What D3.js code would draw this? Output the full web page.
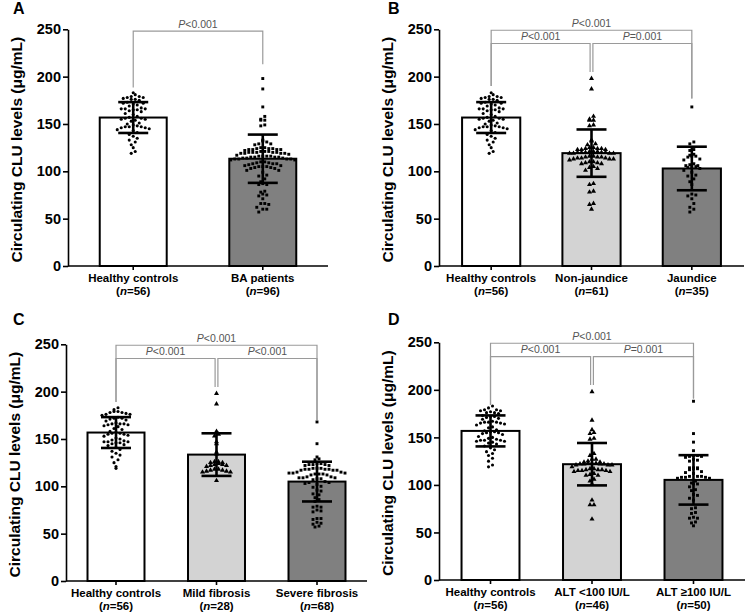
<!DOCTYPE html>
<html><head><meta charset="utf-8">
<script src="https://cdn.jsdelivr.net/npm/d3@7"></script>
<style>body{margin:0;background:#fff}svg{display:block}</style>
</head><body>
<svg id="chart" width="749" height="615"></svg>
<script>
// ---------------- data ----------------
const tickValues = [0, 50, 100, 150, 200, 250];
const yTitle = "Circulating CLU levels (μg/mL)";

const healthyControls = [183,181,179,179,178,178,177,176,176,175,173,172,172,171,170,169,167,166,166,166,
  165,165,164,163,161,160,158,157,156,156,155,155,154,153,151,150,149,148,147,147,
  147,146,146,145,144,143,141,139,137,135,133,131,128,125,121,119];
const nonJaundice = [198,187,158,155,154,154,149,148,133,132,129,128,
  125,125,124,124,124,123,123,123,121,121,121,120,120,120,120,120,119,119,119,119,
  116,116,115,115,115,114,114,114,113,113,113,112,110,110,109,109,108,108,
  105,104,103,101,87,86,79,78,66,65,60];
const jaundice = [168,131,129,123,122,118,117,116,116,115,113,112,108,107,106,106,105,105,104,103,
  101,99,96,95,92,89,86,76,75,74,71,66,62,60,57];
const baPatients = nonJaundice.concat(jaundice);
const mildFibrosis = [198,187,158,155,153,147,145,136,134,126,126,125,125,124,123,123,122,122,121,118,
  118,117,117,116,116,115,115,106];
const severeFibrosis = [168,145,131,129,128,124,124,123,123,123,122,122,
  119,119,119,118,118,118,118,117,117,117,115,115,114,114,114,113,113,113,112,112,
  110,110,109,109,109,108,108,107,105,104,104,103,102,100,99,96,95,92,91,88,86,84,
  79,78,78,75,74,73,66,66,65,62,61,60,58,57];
const altLow = [198,168,158,155,154,149,148,133,131,127,127,125,124,124,
  123,123,123,122,122,122,122,121,121,121,119,117,117,116,116,116,115,115,115,114,114,
  112,111,110,110,106,104,101,84,79,79,64];
const altHigh = [188,154,145,136,131,131,130,130,129,127,126,125,
  118,118,118,117,117,116,114,113,112,109,109,109,108,108,108,107,107,
  104,102,101,101,98,95,94,90,89,86,84,76,75,71,70,66,65,65,61,60,57];

const categoriesA = ["Healthy controls", "BA patients"];
const countsA = [56, 96];
const meansA = [156.8, 113.3];
const sdsA = [16.3, 25.5];
const groupsA = [healthyControls, baPatients];

const categoriesB = ["Healthy controls", "Non-jaundice", "Jaundice"];
const countsB = [56, 61, 35];
const meansB = [156.8, 119.2, 103];
const sdsB = [16.3, 25, 23];
const groupsB = [healthyControls, nonJaundice, jaundice];

const categoriesC = ["Healthy controls", "Mild fibrosis", "Severe fibrosis"];
const countsC = [56, 28, 68];
const meansC = [156.8, 133.5, 105];
const sdsC = [16.3, 22.5, 21];
const groupsC = [healthyControls, mildFibrosis, severeFibrosis];

const categoriesD = ["Healthy controls", "ALT <100 IU/L", "ALT ≥100 IU/L"];
const countsD = [56, 46, 50];
const meansD = [156.8, 121.8, 105.3];
const sdsD = [16.3, 22.3, 26];
const groupsD = [healthyControls, altLow, altHigh];

// brackets: groups a-b, horizontal level and leg end levels (in data units)
const bracketsA = [{a:0, b:1, level:248, legA:188.5, legB:213, p:"<0.001"}];
const bracketsB = [{a:0, b:2, level:249, legA:190, legB:177, p:"<0.001"},
                   {a:0, b:1, level:235, legA:190, legB:205, p:"<0.001"},
                   {a:1, b:2, level:235, legA:205, legB:177, p:"=0.001"}];
const bracketsC = [{a:0, b:2, level:249, legA:189, legB:170, p:"<0.001"},
                   {a:0, b:1, level:235, legA:189, legB:205, p:"<0.001"},
                   {a:1, b:2, level:235, legA:205, legB:170, p:"<0.001"}];
const bracketsD = [{a:0, b:2, level:249, legA:184, legB:191, p:"<0.001"},
                   {a:0, b:1, level:235, legA:184, legB:205, p:"<0.001"},
                   {a:1, b:2, level:235, legA:205, legB:191, p:"=0.001"}];

// ---------------- layout ----------------
const panels = [
  {letter:"A", cats:categoriesA, ns:countsA, means:meansA, sds:sdsA, groups:groupsA, brackets:bracketsA,
   ax:68, axEnd:328, y0:266, y250:29.3, pi:0.483, po:0.245, fills:["#ffffff","#808080"], shapes:["circle","square"], lx:13, ly:14},
  {letter:"B", cats:categoriesB, ns:countsB, means:meansB, sds:sdsB, groups:groupsB, brackets:bracketsB,
   ax:439, axEnd:744, y0:266, y250:29.3, pi:0.42, po:0.23, fills:["#ffffff","#d3d3d3","#808080"], shapes:["circle","triangle","square"], lx:388, ly:14},
  {letter:"C", cats:categoriesC, ns:countsC, means:meansC, sds:sdsC, groups:groupsC, brackets:bracketsC,
   ax:66, axEnd:367, y0:581, y250:344.3, pi:0.433, po:0.214, fills:["#ffffff","#d3d3d3","#808080"], shapes:["circle","triangle","square"], lx:13, ly:325},
  {letter:"D", cats:categoriesD, ns:countsD, means:meansD, sds:sdsD, groups:groupsD, brackets:bracketsD,
   ax:439, axEnd:745, y0:580, y250:342.3, pi:0.429, po:0.222, fills:["#ffffff","#d3d3d3","#808080"], shapes:["circle","triangle","square"], lx:388, ly:325}
];

const FONT = "'Liberation Sans', Arial, Helvetica, sans-serif";
const svg = d3.select("#chart");

// GraphPad-like scatter: values binned into rows, spread evenly left/right
function swarm(values, y, cx, binH, dx) {
  const bins = d3.groups(values, v => Math.floor(y(v) / binH));
  const pts = [];
  bins.forEach(([, vs]) => {
    const s = vs.slice().sort((a, b) => a - b);
    const k = s.length;
    s.forEach((v, j) => {
      const slot = j % 2 === 0 ? j / 2 : k - 1 - (j - 1) / 2;
      pts.push({v, x: cx + (slot - (k - 1) / 2) * dx, y: y(v)});
    });
  });
  return pts;
}

panels.forEach(P => {
  const g = svg.append("g");
  const y = d3.scaleLinear().domain([0, 250]).range([P.y0, P.y250]);
  const x = d3.scaleBand().domain(P.cats).range([P.ax, P.axEnd]).paddingInner(P.pi).paddingOuter(P.po);
  const cx = c => x(c) + x.bandwidth() / 2;

  // y axis
  const ya = g.append("g").attr("transform", `translate(${P.ax},0)`)
    .call(d3.axisLeft(y).tickValues(tickValues).tickSize(5).tickSizeOuter(0).tickPadding(2));
  ya.selectAll("path,line").attr("stroke", "#000").attr("stroke-width", 1.6);
  ya.selectAll("text").attr("font-family", FONT).attr("font-size", 14.5).attr("font-weight", "bold").attr("fill", "#000");

  // x axis
  const xa = g.append("g").attr("transform", `translate(0,${P.y0})`)
    .call(d3.axisBottom(x).tickSize(4).tickSizeOuter(0).tickFormat(""));
  xa.select(".domain").attr("d", `M${P.ax},0H${P.axEnd}`);
  xa.selectAll("path,line").attr("stroke", "#000").attr("stroke-width", 1.6);

  // y title
  g.append("text")
    .attr("transform", `translate(${P.ax - 46},${(P.y0 + P.y250) / 2 + 2}) rotate(-90)`)
    .attr("text-anchor", "middle").attr("font-family", FONT).attr("font-size", 15.5)
    .attr("font-weight", "bold").text(yTitle);

  // panel letter
  g.append("text").attr("x", P.lx).attr("y", P.ly).attr("font-family", FONT)
    .attr("font-size", 16).attr("font-weight", "bold").text(P.letter);

  // bars
  g.selectAll("rect.bar").data(P.cats).join("rect")
    .attr("x", c => x(c)).attr("width", x.bandwidth())
    .attr("y", (c, i) => y(P.means[i])).attr("height", (c, i) => y(0) - y(P.means[i]))
    .attr("fill", (c, i) => P.fills[i]).attr("stroke", "#000").attr("stroke-width", 2);

  // points
  P.cats.forEach((c, i) => {
    const pts = swarm(P.groups[i], y, cx(c), 5.2, 4.0);
    const shape = P.shapes[i];
    if (shape === "circle") {
      g.append("g").selectAll("circle").data(pts).join("circle")
        .attr("cx", d => d.x).attr("cy", d => d.y).attr("r", 1.55).attr("fill", "#000");
    } else {
      const sym = d3.symbol().type(shape === "triangle" ? d3.symbolTriangle : d3.symbolSquare)
        .size(shape === "triangle" ? 11 : 8.5);
      g.append("g").selectAll("path").data(pts).join("path")
        .attr("transform", d => `translate(${d.x},${d.y})`).attr("d", sym).attr("fill", "#000");
    }
  });

  // error bars
  P.cats.forEach((c, i) => {
    const m = P.means[i], s = P.sds[i], X = cx(c);
    const eg = g.append("g").attr("stroke", "#000").attr("stroke-width", 2.6);
    eg.append("line").attr("x1", X).attr("x2", X).attr("y1", y(m + s)).attr("y2", y(m - s));
    [m + s, m - s].forEach(v => eg.append("line").attr("x1", X - 15).attr("x2", X + 15)
      .attr("y1", y(v)).attr("y2", y(v)));
  });

  // brackets
  P.brackets.forEach(b => {
    const n = P.cats.length;
    const offA = (b.a !== 0 && b.level < 245) ? 1.4 : 0;
    const offB = (b.b !== n - 1 && b.level < 245) ? -1.4 : 0;
    const xA = cx(P.cats[b.a]) + offA, xB = cx(P.cats[b.b]) + offB;
    const yl = y(b.level);
    g.append("path")
      .attr("d", `M${xA},${y(b.legA)}V${yl}H${xB}V${y(b.legB)}`)
      .attr("fill", "none").attr("stroke", "#9a9a9a").attr("stroke-width", 1.2);
    const t = g.append("text").attr("x", (xA + xB) / 2).attr("y", yl - 3.5)
      .attr("text-anchor", "middle").attr("font-family", FONT).attr("font-size", 10.5).attr("fill", "#555");
    t.append("tspan").attr("font-style", "italic").text("P");
    t.append("tspan").text(b.p);
  });

  // category labels
  P.cats.forEach((c, i) => {
    g.append("text").attr("x", cx(c)).attr("y", P.y0 + 16)
      .attr("text-anchor", "middle").attr("font-family", FONT).attr("font-size", 11.5)
      .attr("font-weight", "bold").text(c);
    const t2 = g.append("text").attr("x", cx(c)).attr("y", P.y0 + 29)
      .attr("text-anchor", "middle").attr("font-family", FONT).attr("font-size", 11.5)
      .attr("font-weight", "bold");
    t2.append("tspan").text("(");
    t2.append("tspan").attr("font-style", "italic").text("n");
    t2.append("tspan").text("=" + P.ns[i] + ")");
  });
});
</script>
</body></html>
